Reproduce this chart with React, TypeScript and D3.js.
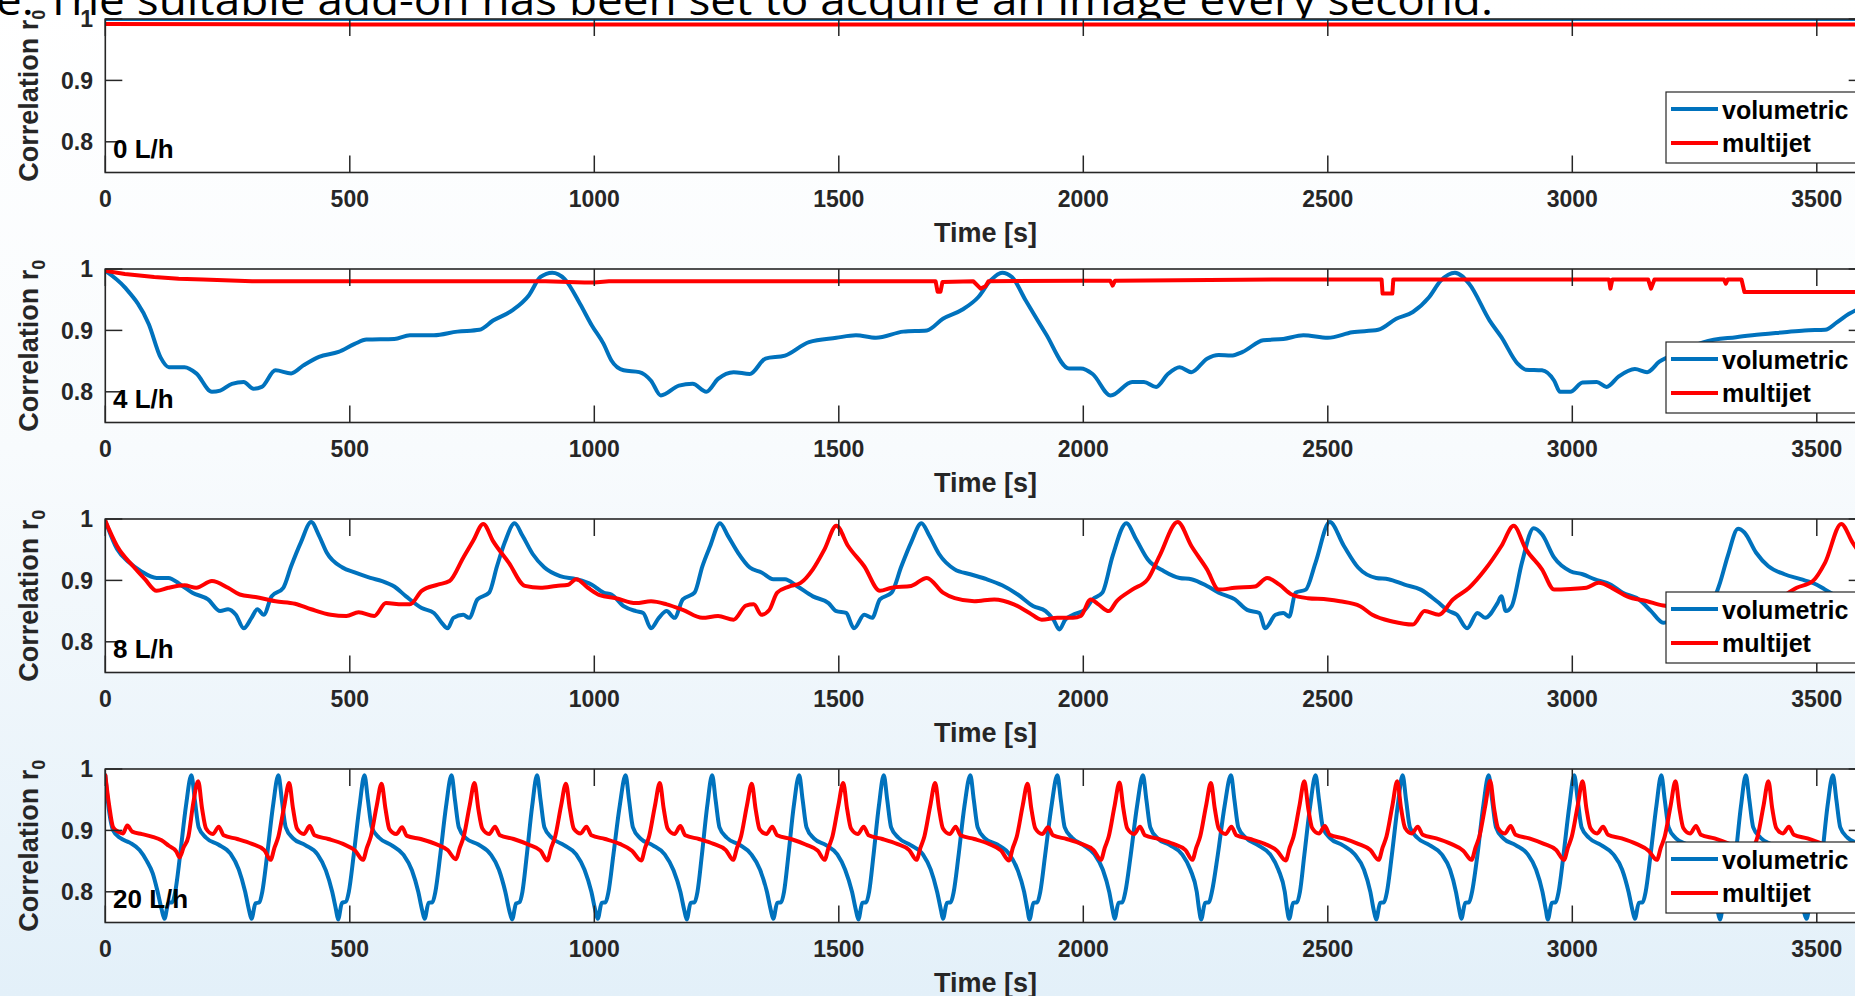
import React from 'react';
import * as d3 from 'd3';

// ---------- data (time [s], correlation r0) ----------
const xTicks = [0, 500, 1000, 1500, 2000, 2500, 3000, 3500];
const yTicks = [0.8, 0.9, 1];
const panelLabels = ['0 L/h', '4 L/h', '8 L/h', '20 L/h'];
const seriesNames = ['volumetric', 'multijet'];
const topText = 'e. The suitable add-on has been set to acquire an image every second.';

const volumetric0: [number, number][] = [[0, 1.0], [1000, 1.0], [2000, 1.0], [3000, 1.0], [3600, 1.0]];
const multijet0: [number, number][] = [[0, 0.992], [500, 0.991], [1000, 0.991], [1500, 0.991], [2000, 0.991], [2500, 0.991], [3000, 0.991], [3600, 0.991]];

const volumetric4: [number, number][] = [
  [0, 0.997], [40, 0.97], [89, 0.91], [113, 0.856], [130, 0.84], [162, 0.84], [186, 0.83], [218, 0.8], [235, 0.802], [259, 0.813], [283, 0.816], [303, 0.805], [320, 0.808], [348, 0.835], [380, 0.83], [405, 0.843], [437, 0.857], [477, 0.865], [510, 0.878], [534, 0.885], [591, 0.886], [623, 0.892], [672, 0.892], [720, 0.898], [765, 0.901], [793, 0.916], [833, 0.933], [866, 0.957], [890, 0.987], [914, 0.994], [939, 0.984], [971, 0.943], [995, 0.908], [1019, 0.878], [1035, 0.851], [1060, 0.835], [1092, 0.832], [1116, 0.818], [1136, 0.794], [1173, 0.81], [1201, 0.813], [1229, 0.8], [1253, 0.821], [1285, 0.832], [1318, 0.829], [1350, 0.854], [1390, 0.859], [1439, 0.881], [1495, 0.888], [1535, 0.892], [1576, 0.888], [1632, 0.898], [1680, 0.9], [1713, 0.919], [1753, 0.934], [1785, 0.954], [1810, 0.981], [1834, 0.994], [1854, 0.987], [1882, 0.949], [1923, 0.895], [1971, 0.838], [1995, 0.838], [2019, 0.829], [2056, 0.794], [2100, 0.816], [2124, 0.816], [2149, 0.808], [2173, 0.829], [2197, 0.84], [2221, 0.832], [2253, 0.854], [2277, 0.86], [2302, 0.859], [2326, 0.865], [2368, 0.884], [2409, 0.886], [2450, 0.892], [2500, 0.888], [2550, 0.897], [2603, 0.901], [2640, 0.919], [2674, 0.93], [2707, 0.954], [2731, 0.981], [2760, 0.994], [2789, 0.976], [2831, 0.916], [2855, 0.889], [2888, 0.846], [2905, 0.836], [2938, 0.835], [2963, 0.818], [2975, 0.8], [2996, 0.8], [3021, 0.815], [3050, 0.816], [3070, 0.808], [3095, 0.825], [3128, 0.837], [3153, 0.832], [3178, 0.849], [3220, 0.865], [3269, 0.881], [3335, 0.889], [3368, 0.892], [3434, 0.897], [3475, 0.9], [3517, 0.901], [3541, 0.913], [3566, 0.927], [3600, 0.94]
];
const multijet4: [number, number][] = [
  [0, 0.997], [40, 0.992], [100, 0.987], [150, 0.984], [200, 0.983], [300, 0.98], [600, 0.98], [900, 0.98], [980, 0.978], [1000, 0.978], [1030, 0.98], [1500, 0.98], [1698, 0.98], [1702, 0.963], [1708, 0.963], [1712, 0.979], [1775, 0.98], [1790, 0.968], [1800, 0.972], [1806, 0.98], [2000, 0.981], [2055, 0.981], [2060, 0.973], [2065, 0.981], [2400, 0.983], [2610, 0.983], [2612, 0.96], [2632, 0.96], [2634, 0.983], [3075, 0.983], [3078, 0.968], [3082, 0.983], [3155, 0.983], [3161, 0.968], [3168, 0.983], [3310, 0.983], [3314, 0.976], [3318, 0.983], [3346, 0.983], [3352, 0.9625], [3600, 0.9625]
];

const volumetric8: [number, number][] = [
  [0, 0.997], [24, 0.951], [49, 0.929], [73, 0.915], [105, 0.904], [129, 0.904], [154, 0.893], [178, 0.88], [210, 0.869], [235, 0.85], [251, 0.853], [267, 0.844], [283, 0.822], [299, 0.839], [311, 0.853], [324, 0.844], [340, 0.874], [364, 0.888], [380, 0.923], [400, 0.962], [421, 0.995], [437, 0.973], [453, 0.945], [485, 0.921], [510, 0.913], [542, 0.904], [566, 0.899], [591, 0.89], [615, 0.874], [647, 0.855], [672, 0.847], [688, 0.831], [700, 0.822], [712, 0.839], [732, 0.844], [744, 0.839], [761, 0.869], [785, 0.88], [801, 0.923], [817, 0.962], [837, 0.993], [853, 0.973], [874, 0.943], [898, 0.921], [930, 0.907], [963, 0.902], [995, 0.893], [1019, 0.88], [1035, 0.877], [1060, 0.858], [1085, 0.85], [1100, 0.847], [1116, 0.822], [1132, 0.839], [1148, 0.85], [1164, 0.839], [1181, 0.869], [1205, 0.88], [1221, 0.923], [1237, 0.956], [1257, 0.993], [1273, 0.973], [1294, 0.945], [1318, 0.921], [1342, 0.913], [1366, 0.902], [1390, 0.902], [1414, 0.891], [1447, 0.874], [1479, 0.863], [1495, 0.85], [1515, 0.847], [1531, 0.822], [1552, 0.844], [1568, 0.839], [1584, 0.869], [1608, 0.88], [1628, 0.923], [1648, 0.962], [1669, 0.993], [1685, 0.973], [1705, 0.943], [1737, 0.918], [1769, 0.91], [1802, 0.902], [1834, 0.892], [1866, 0.877], [1898, 0.858], [1923, 0.85], [1939, 0.836], [1951, 0.82], [1963, 0.836], [1979, 0.844], [2003, 0.852], [2019, 0.869], [2039, 0.88], [2060, 0.94], [2088, 0.993], [2108, 0.967], [2132, 0.934], [2165, 0.915], [2197, 0.904], [2221, 0.902], [2253, 0.891], [2277, 0.88], [2310, 0.869], [2335, 0.852], [2360, 0.847], [2372, 0.822], [2393, 0.844], [2409, 0.847], [2421, 0.841], [2434, 0.88], [2455, 0.885], [2475, 0.929], [2504, 0.995], [2533, 0.956], [2562, 0.921], [2599, 0.904], [2624, 0.902], [2657, 0.893], [2690, 0.885], [2723, 0.866], [2748, 0.85], [2764, 0.844], [2785, 0.822], [2806, 0.847], [2822, 0.839], [2847, 0.863], [2855, 0.874], [2864, 0.85], [2876, 0.858], [2897, 0.929], [2921, 0.985], [2938, 0.975], [2963, 0.937], [2996, 0.915], [3021, 0.91], [3045, 0.902], [3079, 0.893], [3103, 0.88], [3136, 0.869], [3161, 0.85], [3186, 0.831], [3220, 0.84], [3250, 0.822], [3270, 0.845], [3290, 0.87], [3302, 0.896], [3318, 0.94], [3339, 0.984], [3352, 0.978], [3376, 0.945], [3401, 0.923], [3434, 0.91], [3467, 0.902], [3500, 0.893], [3517, 0.885], [3550, 0.87], [3600, 0.85]
];
const multijet8: [number, number][] = [
  [0, 0.997], [24, 0.956], [57, 0.923], [81, 0.902], [105, 0.883], [129, 0.888], [162, 0.892], [186, 0.888], [218, 0.899], [251, 0.888], [275, 0.877], [307, 0.873], [348, 0.866], [388, 0.862], [421, 0.853], [461, 0.844], [493, 0.842], [518, 0.848], [550, 0.842], [574, 0.863], [607, 0.861], [623, 0.861], [647, 0.883], [680, 0.893], [704, 0.899], [732, 0.937], [752, 0.964], [773, 0.992], [793, 0.964], [825, 0.929], [858, 0.891], [890, 0.888], [922, 0.891], [947, 0.893], [963, 0.902], [987, 0.888], [1011, 0.876], [1044, 0.871], [1085, 0.863], [1116, 0.866], [1148, 0.861], [1181, 0.852], [1221, 0.839], [1253, 0.842], [1285, 0.836], [1310, 0.859], [1326, 0.861], [1342, 0.844], [1358, 0.852], [1374, 0.88], [1398, 0.89], [1422, 0.896], [1447, 0.918], [1471, 0.951], [1495, 0.989], [1519, 0.956], [1552, 0.923], [1584, 0.883], [1608, 0.888], [1648, 0.891], [1680, 0.904], [1713, 0.88], [1737, 0.871], [1777, 0.866], [1818, 0.869], [1858, 0.861], [1890, 0.847], [1915, 0.836], [1947, 0.839], [1979, 0.839], [1995, 0.842], [2015, 0.869], [2031, 0.861], [2052, 0.85], [2068, 0.866], [2100, 0.885], [2132, 0.902], [2156, 0.94], [2193, 0.995], [2221, 0.956], [2253, 0.918], [2277, 0.885], [2310, 0.888], [2351, 0.89], [2376, 0.904], [2401, 0.893], [2426, 0.877], [2459, 0.871], [2500, 0.869], [2525, 0.866], [2566, 0.858], [2591, 0.844], [2632, 0.833], [2674, 0.828], [2698, 0.85], [2727, 0.844], [2756, 0.869], [2789, 0.888], [2822, 0.918], [2855, 0.956], [2880, 0.989], [2905, 0.951], [2938, 0.918], [2963, 0.885], [2996, 0.886], [3029, 0.888], [3054, 0.896], [3087, 0.885], [3112, 0.874], [3153, 0.866], [3186, 0.859], [3250, 0.855], [3320, 0.85], [3400, 0.86], [3459, 0.888], [3492, 0.899], [3517, 0.929], [3550, 0.992], [3573, 0.962], [3600, 0.93]
];

const volumetric20: [number, number][] = [
  [0, 0.99], [8, 0.93], [16, 0.9], [30, 0.888], [50, 0.88], [70, 0.868], [85, 0.85], [97, 0.83], [107, 0.8], [115, 0.772],
  [121, 0.756], [129, 0.782], [137, 0.783], [143, 0.8], [153, 0.86], [165, 0.94], [176, 0.99], [183, 0.95], [191, 0.905], [206, 0.888], [231, 0.877], [256, 0.862], [273, 0.836], [286, 0.8], [294, 0.77],
  [299, 0.756], [307, 0.781], [315, 0.783], [321, 0.8], [331, 0.86], [343, 0.94], [354, 0.99], [361, 0.95], [369, 0.905], [384, 0.887], [409, 0.876], [434, 0.861], [451, 0.835], [464, 0.8], [472, 0.77],
  [476, 0.755], [484, 0.782], [492, 0.784], [498, 0.8], [508, 0.86], [520, 0.94], [530, 0.99], [537, 0.95], [545, 0.905], [560, 0.888], [585, 0.876], [610, 0.86], [627, 0.835], [640, 0.8], [648, 0.77],
  [653, 0.756], [661, 0.782], [669, 0.783], [675, 0.8], [685, 0.86], [697, 0.94], [708, 0.99], [715, 0.95], [723, 0.905], [738, 0.887], [763, 0.877], [788, 0.861], [805, 0.836], [818, 0.8], [826, 0.77],
  [832, 0.755], [840, 0.781], [847, 0.783], [853, 0.8], [862, 0.86], [873, 0.94], [883, 0.99], [890, 0.95], [898, 0.905], [913, 0.888], [938, 0.876], [963, 0.861], [980, 0.836], [994, 0.8], [1002, 0.77],
  [1007, 0.756], [1015, 0.782], [1023, 0.783], [1029, 0.8], [1039, 0.86], [1052, 0.94], [1064, 0.99], [1071, 0.95], [1079, 0.905], [1094, 0.887], [1119, 0.876], [1144, 0.861], [1162, 0.835], [1176, 0.8], [1184, 0.77],
  [1189, 0.755], [1197, 0.782], [1205, 0.783], [1211, 0.8], [1220, 0.86], [1231, 0.94], [1241, 0.99], [1248, 0.95], [1256, 0.905], [1271, 0.888], [1296, 0.877], [1321, 0.861], [1339, 0.836], [1353, 0.8], [1361, 0.77],
  [1366, 0.756], [1374, 0.782], [1382, 0.783], [1388, 0.8], [1397, 0.86], [1408, 0.94], [1419, 0.99], [1426, 0.95], [1434, 0.905], [1449, 0.887], [1474, 0.876], [1497, 0.861], [1513, 0.836], [1527, 0.8], [1535, 0.77],
  [1540, 0.755], [1548, 0.782], [1556, 0.783], [1562, 0.8], [1571, 0.86], [1582, 0.94], [1592, 0.99], [1599, 0.95], [1607, 0.905], [1622, 0.888], [1647, 0.876], [1672, 0.861], [1688, 0.836], [1701, 0.8], [1709, 0.77],
  [1713, 0.756], [1721, 0.782], [1729, 0.783], [1735, 0.8], [1745, 0.86], [1757, 0.94], [1769, 0.99], [1776, 0.95], [1784, 0.905], [1799, 0.887], [1824, 0.877], [1849, 0.861], [1866, 0.835], [1879, 0.8], [1886, 0.77],
  [1890, 0.755], [1898, 0.782], [1906, 0.783], [1912, 0.8], [1922, 0.86], [1935, 0.94], [1947, 0.99], [1954, 0.95], [1962, 0.905], [1977, 0.888], [2000, 0.876], [2023, 0.861], [2040, 0.836], [2053, 0.8], [2060, 0.77],
  [2064, 0.756], [2072, 0.782], [2080, 0.783], [2086, 0.8], [2097, 0.86], [2110, 0.94], [2122, 0.99], [2129, 0.95], [2137, 0.905], [2152, 0.887], [2177, 0.876], [2202, 0.861], [2219, 0.836], [2232, 0.8], [2237, 0.77],
  [2241, 0.755], [2249, 0.782], [2257, 0.783], [2263, 0.8], [2275, 0.86], [2289, 0.94], [2302, 0.99], [2309, 0.95], [2317, 0.905], [2332, 0.888], [2357, 0.876], [2382, 0.861], [2399, 0.836], [2412, 0.8], [2417, 0.77],
  [2421, 0.756], [2429, 0.782], [2437, 0.783], [2443, 0.8], [2452, 0.86], [2464, 0.94], [2475, 0.99], [2482, 0.95], [2490, 0.905], [2505, 0.887], [2530, 0.876], [2555, 0.861], [2574, 0.836], [2587, 0.8], [2594, 0.77],
  [2599, 0.755], [2607, 0.782], [2615, 0.783], [2621, 0.8], [2631, 0.86], [2643, 0.94], [2653, 0.99], [2660, 0.95], [2668, 0.905], [2683, 0.888], [2708, 0.876], [2733, 0.861], [2750, 0.836], [2762, 0.8], [2769, 0.77],
  [2773, 0.756], [2781, 0.782], [2789, 0.783], [2795, 0.8], [2806, 0.86], [2818, 0.94], [2829, 0.99], [2836, 0.95], [2844, 0.905], [2859, 0.887], [2884, 0.876], [2909, 0.861], [2926, 0.836], [2939, 0.8], [2946, 0.77],
  [2950, 0.755], [2958, 0.782], [2966, 0.783], [2972, 0.8], [2982, 0.86], [2994, 0.94], [3004, 0.99], [3011, 0.95], [3019, 0.905], [3034, 0.888], [3059, 0.876], [3084, 0.861], [3102, 0.836], [3115, 0.8], [3123, 0.77],
  [3128, 0.756], [3136, 0.782], [3144, 0.783], [3150, 0.8], [3160, 0.86], [3172, 0.94], [3182, 0.99], [3189, 0.95], [3197, 0.905], [3212, 0.887], [3237, 0.876], [3262, 0.861], [3278, 0.836], [3290, 0.8], [3297, 0.77],
  [3302, 0.755], [3310, 0.782], [3318, 0.783], [3324, 0.8], [3334, 0.86], [3345, 0.94], [3355, 0.99], [3362, 0.95], [3370, 0.905], [3385, 0.888], [3410, 0.876], [3435, 0.861], [3452, 0.836], [3465, 0.8], [3473, 0.77],
  [3479, 0.756], [3487, 0.782], [3495, 0.783], [3501, 0.8], [3511, 0.86], [3522, 0.94], [3533, 0.99], [3540, 0.95], [3548, 0.905], [3563, 0.888], [3590, 0.877], [3600, 0.872]
];
const multijet20: [number, number][] = [
  [0, 0.99], [8, 0.94], [16, 0.905], [26, 0.898], [36, 0.895], [45, 0.908], [55, 0.898], [75, 0.894], [95, 0.89], [115, 0.884], [130, 0.875], [145, 0.866], [152, 0.856], [160, 0.872], [170, 0.89], [180, 0.945],
  [190, 0.98], [198, 0.935], [206, 0.903], [220, 0.894], [232, 0.906], [242, 0.892], [270, 0.886], [300, 0.878], [325, 0.868], [338, 0.852], [346, 0.872], [354, 0.89], [366, 0.94],
  [376, 0.977], [384, 0.935], [392, 0.903], [406, 0.894], [418, 0.907], [428, 0.892], [456, 0.886], [486, 0.878], [511, 0.867], [527, 0.852], [535, 0.872], [543, 0.89], [555, 0.94],
  [565, 0.976], [573, 0.935], [581, 0.902], [595, 0.894], [607, 0.905], [617, 0.891], [645, 0.886], [675, 0.878], [700, 0.868], [717, 0.853], [725, 0.872], [733, 0.89], [745, 0.94],
  [755, 0.977], [763, 0.934], [771, 0.903], [785, 0.894], [797, 0.906], [807, 0.892], [835, 0.886], [865, 0.877], [890, 0.867], [904, 0.851], [912, 0.872], [920, 0.89], [932, 0.94],
  [942, 0.976], [950, 0.935], [958, 0.903], [972, 0.895], [984, 0.906], [994, 0.892], [1022, 0.886], [1052, 0.878], [1077, 0.867], [1096, 0.851], [1104, 0.872], [1112, 0.89], [1124, 0.94],
  [1134, 0.977], [1142, 0.935], [1150, 0.903], [1164, 0.894], [1176, 0.907], [1186, 0.892], [1214, 0.886], [1244, 0.878], [1269, 0.868], [1284, 0.852], [1292, 0.872], [1300, 0.89], [1312, 0.94],
  [1322, 0.976], [1330, 0.934], [1338, 0.902], [1352, 0.894], [1364, 0.906], [1374, 0.892], [1402, 0.886], [1432, 0.877], [1457, 0.867], [1471, 0.852], [1479, 0.872], [1487, 0.89], [1499, 0.94],
  [1509, 0.977], [1517, 0.935], [1525, 0.903], [1539, 0.894], [1551, 0.906], [1561, 0.892], [1589, 0.886], [1619, 0.878], [1644, 0.868], [1659, 0.852], [1667, 0.872], [1675, 0.89], [1687, 0.94],
  [1697, 0.977], [1705, 0.935], [1713, 0.903], [1727, 0.894], [1739, 0.906], [1749, 0.892], [1777, 0.886], [1807, 0.878], [1832, 0.867], [1848, 0.851], [1856, 0.872], [1864, 0.89], [1876, 0.94],
  [1886, 0.976], [1894, 0.934], [1902, 0.903], [1916, 0.894], [1928, 0.905], [1938, 0.892], [1966, 0.886], [1996, 0.878], [2021, 0.868], [2036, 0.852], [2044, 0.872], [2052, 0.89], [2064, 0.94],
  [2074, 0.978], [2082, 0.935], [2090, 0.903], [2104, 0.894], [2116, 0.906], [2126, 0.892], [2154, 0.886], [2184, 0.878], [2209, 0.868], [2223, 0.852], [2231, 0.872], [2239, 0.89], [2251, 0.94],
  [2261, 0.977], [2269, 0.935], [2277, 0.903], [2291, 0.894], [2303, 0.906], [2313, 0.892], [2341, 0.886], [2371, 0.878], [2396, 0.867], [2414, 0.851], [2422, 0.872], [2430, 0.89], [2442, 0.94],
  [2452, 0.98], [2460, 0.936], [2468, 0.904], [2482, 0.895], [2494, 0.907], [2504, 0.893], [2532, 0.887], [2562, 0.878], [2587, 0.868], [2604, 0.852], [2612, 0.872], [2620, 0.89], [2632, 0.94],
  [2642, 0.98], [2650, 0.935], [2658, 0.904], [2672, 0.895], [2684, 0.906], [2694, 0.893], [2722, 0.887], [2752, 0.878], [2777, 0.867], [2794, 0.852], [2802, 0.872], [2810, 0.89], [2822, 0.94],
  [2832, 0.981], [2840, 0.936], [2848, 0.904], [2862, 0.895], [2874, 0.907], [2884, 0.893], [2912, 0.887], [2942, 0.878], [2967, 0.868], [2983, 0.852], [2991, 0.872], [2999, 0.89], [3011, 0.94],
  [3021, 0.98], [3029, 0.935], [3037, 0.904], [3051, 0.895], [3063, 0.906], [3073, 0.893], [3101, 0.887], [3131, 0.878], [3156, 0.867], [3173, 0.852], [3181, 0.872], [3189, 0.89], [3201, 0.94],
  [3211, 0.98], [3219, 0.936], [3227, 0.904], [3241, 0.895], [3253, 0.907], [3263, 0.893], [3291, 0.887], [3321, 0.878], [3346, 0.868], [3363, 0.852], [3371, 0.872], [3379, 0.89], [3391, 0.94],
  [3401, 0.98], [3409, 0.935], [3417, 0.904], [3431, 0.895], [3443, 0.906], [3453, 0.893], [3481, 0.887], [3511, 0.878], [3536, 0.867], [3552, 0.86], [3565, 0.862], [3575, 0.855], [3585, 0.872], [3595, 0.89], [3600, 0.91]
];

const volumetricSeries = [volumetric0, volumetric4, volumetric8, volumetric20];
const multijetSeries = [multijet0, multijet4, multijet8, multijet20];

// ---------- styling ----------
const BLUE = '#0072BD';
const RED = '#FF0000';
const AXIS = '#262626';
const FONT = '"Liberation Sans", Arial, Helvetica, sans-serif';

export default function App() {
  const W = 1855;
  const H = 996;
  const left = 105.3;
  const right = 1865.7;
  const panelH = 153.5;
  const panelTops = [19, 269, 519, 769];
  const tickLen = 17;
  const lw = 4;

  const x = d3.scaleLinear().domain([0, 3600]).range([left, right]);

  return (
    <svg
      width={W}
      height={H}
      viewBox={`0 0 ${W} ${H}`}
      style={{ position: 'absolute', left: 0, top: 0, display: 'block', overflow: 'hidden' }}
    >
      <defs>
        <linearGradient id="bg" x1="0" y1="0" x2="0" y2="1">
          <stop offset="0%" stopColor="#ffffff" />
          <stop offset="45%" stopColor="#f8fbfd" />
          <stop offset="100%" stopColor="#e3f0f9" />
        </linearGradient>
        {panelTops.map((t, i) => (
          <clipPath id={`clip${i}`} key={i}>
            <rect x={left} y={t} width={right - left} height={panelH} />
          </clipPath>
        ))}
      </defs>
      <rect x={0} y={0} width={W} height={H} fill="url(#bg)" />

      <text
        x={-4}
        y={15}
        fontFamily='"Open Sans", "Noto Sans", sans-serif'
        fontSize={42}
        fill="#000"
        textLength={1497}
        lengthAdjust="spacingAndGlyphs"
      >
        {topText}
      </text>

      {panelTops.map((top, i) => {
        const bottom = top + panelH;
        const y = d3.scaleLinear().domain([0.75, 1]).range([bottom, top]);
        const smooth = d3
          .line<[number, number]>()
          .x((d) => x(d[0]))
          .y((d) => y(d[1]))
          .curve(d3.curveMonotoneX);
        const straight = d3
          .line<[number, number]>()
          .x((d) => x(d[0]))
          .y((d) => y(d[1]))
          .curve(d3.curveLinear);
        const multiLine = i === 1 ? straight : smooth;
        const cy = (top + bottom) / 2;
        return (
          <g key={i}>
            <rect x={left} y={top} width={right - left} height={panelH} fill="#ffffff" />
            <g clipPath={`url(#clip${i})`}>
              <path d={smooth(volumetricSeries[i]) || ''} fill="none" stroke={BLUE} strokeWidth={lw} strokeLinejoin="round" strokeLinecap="round" />
              <path d={multiLine(multijetSeries[i]) || ''} fill="none" stroke={RED} strokeWidth={lw} strokeLinejoin="round" strokeLinecap="round" />
            </g>

            {/* axis box */}
            <rect x={left} y={top} width={right - left} height={panelH} fill="none" stroke={AXIS} strokeWidth={1.6} />
            {xTicks.map((t) => (
              <g key={`xt${t}`}>
                <line x1={x(t)} x2={x(t)} y1={bottom} y2={bottom - tickLen} stroke={AXIS} strokeWidth={1.5} />
                <line x1={x(t)} x2={x(t)} y1={top} y2={top + tickLen} stroke={AXIS} strokeWidth={1.5} />
                <text x={x(t)} y={bottom + 34} textAnchor="middle" fontFamily={FONT} fontWeight="bold" fontSize={23} fill={AXIS}>
                  {t}
                </text>
              </g>
            ))}
            {yTicks.map((v) => (
              <g key={`yt${v}`}>
                <line x1={left} x2={left + tickLen} y1={y(v)} y2={y(v)} stroke={AXIS} strokeWidth={1.5} />
                <line x1={right} x2={right - tickLen} y1={y(v)} y2={y(v)} stroke={AXIS} strokeWidth={1.5} />
                <text x={93} y={y(v)} dy="0.36em" textAnchor="end" fontFamily={FONT} fontWeight="bold" fontSize={23} fill={AXIS}>
                  {v}
                </text>
              </g>
            ))}

            {/* axis labels */}
            <text x={(left + right) / 2} y={bottom + 69} textAnchor="middle" fontFamily={FONT} fontWeight="bold" fontSize={27} fill={AXIS}>
              Time [s]
            </text>
            <text
              transform={`translate(38,${cy}) rotate(-90)`}
              textAnchor="middle"
              fontFamily={FONT}
              fontWeight="bold"
              fontSize={27}
              fill={AXIS}
            >
              Correlation r<tspan dy={7} fontSize={18}>0</tspan>
            </text>

            {/* panel label */}
            <text x={113} y={top + 139} fontFamily={FONT} fontWeight="bold" fontSize={26} fill="#000">
              {panelLabels[i]}
            </text>

            {/* legend */}
            <rect x={1666} y={top + 73} width={230} height={71} fill="#ffffff" stroke={AXIS} strokeWidth={1.2} />
            <line x1={1671} x2={1718} y1={top + 90} y2={top + 90} stroke={BLUE} strokeWidth={lw} />
            <text x={1722} y={top + 100} fontFamily={FONT} fontWeight="bold" fontSize={25} fill="#000">
              {seriesNames[0]}
            </text>
            <line x1={1671} x2={1718} y1={top + 124} y2={top + 124} stroke={RED} strokeWidth={lw} />
            <text x={1722} y={top + 133} fontFamily={FONT} fontWeight="bold" fontSize={25} fill="#000">
              {seriesNames[1]}
            </text>
          </g>
        );
      })}
    </svg>
  );
}
